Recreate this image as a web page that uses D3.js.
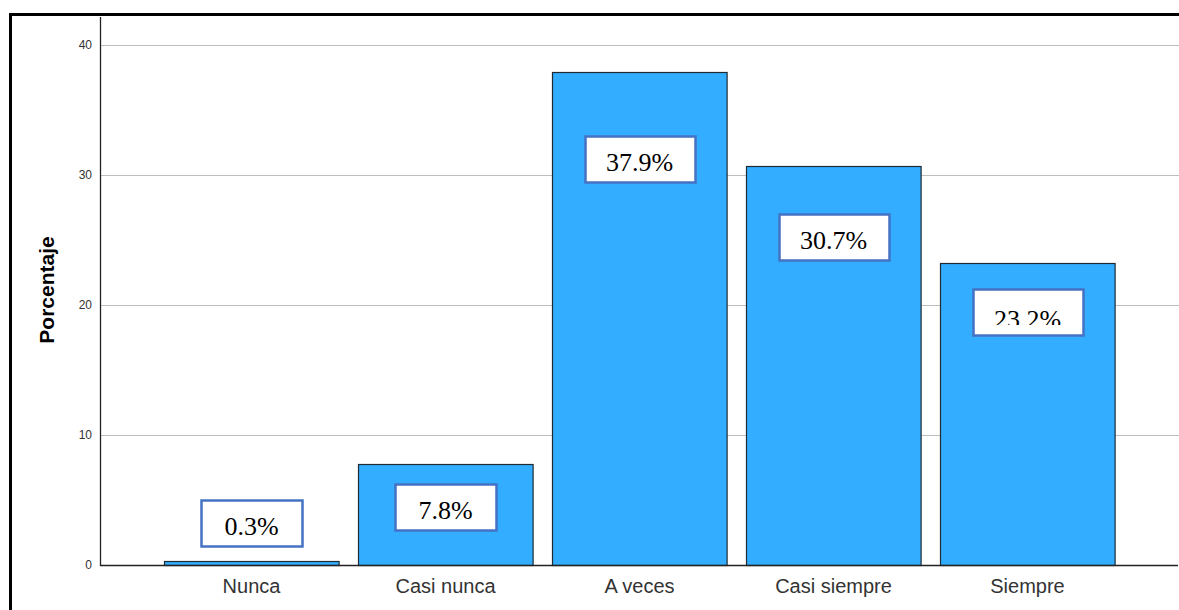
<!DOCTYPE html>
<html>
<head>
<meta charset="utf-8">
<script src="https://cdn.jsdelivr.net/npm/d3@7"></script>
<style>
    html, body { margin: 0; padding: 0; background: #fff; }
    svg { display: block; }
</style>
</head>
<body>
<div id="chart"></div>
<script>
// Porcentaje por categoría (bar chart with boxed labels)

const categories = ['Nunca', 'Casi nunca', 'A veces', 'Casi siempre', 'Siempre'];
const percentages = [0.3, 7.8, 37.9, 30.7, 23.2];
const labelTexts = ['0.3%', '7.8%', '37.9%', '30.7%', '23.2%'];
// where each label box is centred, in axis units
const labelCenters = [3.2, 4.5, 31.2, 25.2, 19.5];
const yTicks = [0, 10, 20, 30, 40];

const width = 1179;
const height = 610;

const svg = d3.select('#chart')
    .append('svg')
    .attr('width', width)
    .attr('height', height);

// Outer frame
svg.append('path')
    .attr('d', `M10.5,${height + 5} V14.5 H${width + 5}`)
    .attr('fill', 'none')
    .attr('stroke', '#000')
    .attr('stroke-width', 3);

// Scales
const x = d3.scaleBand()
    .domain(categories)
    .range([154.5, 1124.5])
    .paddingInner(0.1)
    .paddingOuter(0.05);

const y = d3.scaleLinear()
    .domain([0, 40])
    .range([565, 45]);

const axisLeft = 100;

// Grid lines
svg.append('g')
    .selectAll('line')
    .data(yTicks.filter(d => d > 0))
    .enter()
    .append('line')
    .attr('x1', axisLeft)
    .attr('x2', width)
    .attr('y1', d => y(d) + 0.5)
    .attr('y2', d => y(d) + 0.5)
    .attr('stroke', '#bdbdbd')
    .attr('stroke-width', 1);

// Y axis
const yAxis = svg.append('g')
    .attr('transform', `translate(${axisLeft},0)`)
    .call(d3.axisLeft(y).tickValues(yTicks).tickSize(0).tickPadding(8));
yAxis.select('.domain').remove();
yAxis.selectAll('text')
    .attr('font-family', 'Arial, "Liberation Sans", sans-serif')
    .attr('font-size', '12px')
    .attr('fill', '#333');

svg.append('line')
    .attr('x1', axisLeft + 0.5)
    .attr('x2', axisLeft + 0.5)
    .attr('y1', 17)
    .attr('y2', 566)
    .attr('stroke', '#222')
    .attr('stroke-width', 1.3);

// Bars
svg.append('g')
    .selectAll('rect')
    .data(categories)
    .enter()
    .append('rect')
    .attr('x', d => Math.round(x(d)) + 0.5)
    .attr('y', (d, i) => Math.round(y(percentages[i])) + 0.5)
    .attr('width', x.bandwidth())
    .attr('height', (d, i) => y(0) - Math.round(y(percentages[i])))
    .attr('fill', '#33adff')
    .attr('stroke', '#1f2a33')
    .attr('stroke-width', 1.2);

// X axis baseline
svg.append('line')
    .attr('x1', axisLeft)
    .attr('x2', width - 1)
    .attr('y1', y(0) + 0.5)
    .attr('y2', y(0) + 0.5)
    .attr('stroke', '#222')
    .attr('stroke-width', 1.3);

// X tick labels
const xAxis = svg.append('g')
    .attr('transform', `translate(0,${y(0)})`)
    .call(d3.axisBottom(x).tickSize(0).tickPadding(14));
xAxis.select('.domain').remove();
xAxis.selectAll('text')
    .attr('font-family', 'Arial, "Liberation Sans", sans-serif')
    .attr('font-size', '20px')
    .attr('fill', '#333');

// Y axis title
svg.append('text')
    .attr('transform', 'rotate(-90)')
    .attr('x', -290)
    .attr('y', 54)
    .attr('text-anchor', 'middle')
    .attr('font-family', 'Arial, "Liberation Sans", sans-serif')
    .attr('font-weight', 'bold')
    .attr('font-size', '21px')
    .attr('fill', '#000')
    .text('Porcentaje');

// Boxed value labels
const defs = svg.append('defs');
const labels = svg.append('g');
categories.forEach((cat, i) => {
    const cx = x(cat) + x.bandwidth() / 2;
    const cy = y(labelCenters[i]);
    const boxW = labelTexts[i].length > 4 ? 110 : 101;
    const boxH = 46;
    const bx = Math.round(cx - boxW / 2) + 0.5;
    const by = Math.round(cy - boxH / 2) + 0.5;

    // the last label sits low and its bottom edge gets cut off
    const cut = i === 4;

    defs.append('clipPath')
        .attr('id', `clip-${i}`)
        .append('rect')
        .attr('x', bx + 1.5)
        .attr('y', by + 1.5)
        .attr('width', boxW - 3)
        .attr('height', cut ? boxH - 12 : boxH - 3);

    labels.append('rect')
        .attr('x', bx)
        .attr('y', by)
        .attr('width', boxW)
        .attr('height', boxH)
        .attr('fill', '#fff')
        .attr('stroke', '#4472c4')
        .attr('stroke-width', 2.5);

    labels.append('text')
        .attr('clip-path', `url(#clip-${i})`)
        .attr('x', cx)
        .attr('y', cy + 12 + (cut ? 4 : 0))
        .attr('text-anchor', 'middle')
        .attr('font-family', '"Liberation Serif", "Times New Roman", serif')
        .attr('font-size', '26px')
        .attr('fill', '#000')
        .text(labelTexts[i]);
});
</script>
</body>
</html>
